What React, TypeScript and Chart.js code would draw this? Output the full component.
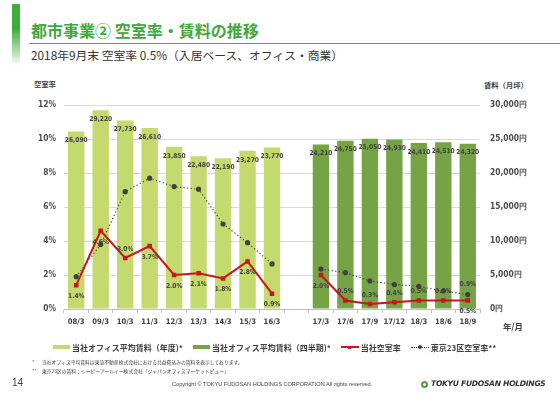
import React, { useEffect, useRef } from "react";
import { Chart, registerables } from "chart.js";
Chart.register(...registerables);

const categories = ["08/3", "09/3", "10/3", "11/3", "12/3", "13/3", "14/3", "15/3", "16/3", "", "17/3", "17/6", "17/9", "17/12", "18/3", "18/6", "18/9"];
const rentAnnual = [26090, 29220, 27730, 26610, 23850, 22480, 22190, 23270, 23770, null, null, null, null, null, null, null, null];
const rentQuarterly = [null, null, null, null, null, null, null, null, null, null, 24210, 24750, 25050, 24930, 24410, 24510, 24320];
const companyVacancy = [1.4, 4.6, 3.0, 3.7, 2.0, 2.1, 1.8, 2.8, 0.9, null, 2.0, 0.5, 0.3, 0.4, 0.5, 0.5, 0.5];
const tokyoVacancy = [1.9, 3.8, 6.9, 7.7, 7.2, 7.05, 5.0, 3.9, 2.65, null, 2.35, 2.14, 1.65, 1.44, 1.33, 1.06, 0.85];
const tokyoLabels = ["", "", "", "", "", "", "", "", "", "", "", "", "", "", "", "", "0.9%"];
const leftTickLabels = ["0%", "2%", "4%", "6%", "8%", "10%", "12%"];
const rightTickLabels = ["0円", "5,000円", "10,000円", "15,000円", "20,000円", "25,000円", "30,000円"];

const LIGHT = "#c4d96e";
const DARK = "#76a346";
const RED = "#c8161d";
const DOT = "#404040";
const TXT = "#404040";
const NUMFONT = '"DejaVu Sans Condensed", "DejaVu Sans", sans-serif';
const JP = '"Noto Sans CJK JP", "Noto Sans", sans-serif';

const redAbove = new Set([2, 11, 12, 13, 14, 15]);

const labelPlugin = {
  id: "valueLabels",
  afterDatasetsDraw(chart: any) {
    const ctx = chart.ctx;
    ctx.save();
    ctx.fillStyle = TXT;
    ctx.textAlign = "center";
    ctx.textBaseline = "middle";
    chart.data.datasets.forEach((ds: any, di: number) => {
      const meta = chart.getDatasetMeta(di);
      meta.data.forEach((el: any, i: number) => {
        const v = ds.data[i];
        if (v === null || v === undefined) return;
        if (ds.kind === "bar") {
          ctx.font = `bold 6.6px ${NUMFONT}`;
          ctx.fillText(v.toLocaleString("en-US"), el.x, el.y + 9);
        } else if (ds.kind === "red") {
          ctx.font = `bold 6.6px ${NUMFONT}`;
          const dy = redAbove.has(i) ? -9 : 11;
          ctx.fillText(v.toFixed(1) + "%", el.x, el.y + dy);
        } else if (ds.kind === "tokyo") {
          const t = tokyoLabels[i];
          if (t) {
            ctx.font = `bold 6.6px ${NUMFONT}`;
            ctx.fillText(t, el.x, el.y - 10);
          }
        }
      });
    });
    ctx.restore();
  },
};

function ChartBox() {
  const ref = useRef<HTMLCanvasElement>(null);
  useEffect(() => {
    const chart = new Chart(ref.current as HTMLCanvasElement, {
      type: "bar",
      data: {
        labels: categories,
        datasets: [
          { type: "line", kind: "red", label: "当社空室率", data: companyVacancy, yAxisID: "y", borderColor: RED, backgroundColor: RED, borderWidth: 2, pointStyle: "rect", pointRadius: 1.8, spanGaps: false, order: 1 } as any,
          { type: "line", kind: "tokyo", label: "東京23区空室率**", data: tokyoVacancy, yAxisID: "y", borderColor: DOT, backgroundColor: DOT, borderWidth: 1.2, borderDash: [1.2, 2.4], pointRadius: 2, spanGaps: false, order: 2 } as any,
          { type: "bar", kind: "bar", label: "当社オフィス平均賃料（年度)*", data: rentAnnual, yAxisID: "y1", backgroundColor: LIGHT, grouped: false, barPercentage: 0.67, categoryPercentage: 1, order: 3 } as any,
          { type: "bar", kind: "bar", label: "当社オフィス平均賃料（四半期)*", data: rentQuarterly, yAxisID: "y1", backgroundColor: DARK, grouped: false, barPercentage: 0.67, categoryPercentage: 1, order: 4 } as any,
        ],
      },
      options: {
        animation: false,
        responsive: false,
        maintainAspectRatio: false,
        layout: { padding: { top: 8, bottom: 0, left: 0, right: 0 } },
        plugins: { legend: { display: false }, tooltip: { enabled: false } },
        scales: {
          x: {
            offset: true,
            grid: { drawOnChartArea: false, drawTicks: true, tickLength: 4, color: "#bfbfbf", offset: true },
            border: { display: true, color: "#bfbfbf" },
            ticks: { color: TXT, font: { family: NUMFONT, size: 7.6, weight: "bold" }, padding: 4, maxRotation: 0, autoSkip: false },
            afterFit: (s: any) => { s.height = 31; },
          },
          y: {
            position: "left",
            min: 0,
            max: 12,
            ticks: { stepSize: 2, color: "#4d4d4d", font: { family: NUMFONT, size: 8.4, weight: "bold" }, padding: 8, callback: (_v: any, i: number) => leftTickLabels[i] },
            grid: { color: "#d9d9d9", drawTicks: false },
            border: { display: false },
            afterFit: (s: any) => { s.width = 64; },
          },
          y1: {
            position: "right",
            min: 0,
            max: 30000,
            ticks: { stepSize: 5000, color: "#4d4d4d", font: { family: NUMFONT, size: 8.4, weight: "bold" }, padding: 10, callback: (_v: any, i: number) => rightTickLabels[i] },
            grid: { drawOnChartArea: false, drawTicks: false },
            border: { display: false },
            afterFit: (s: any) => { s.width = 80; },
          },
        },
      } as any,
      plugins: [labelPlugin],
    });
    return () => chart.destroy();
  }, []);
  return <canvas ref={ref} width={560} height={250} style={{ position: "absolute", left: 0, top: 90, width: 560, height: 250 }} />;
}

const T = ({ x, y, size, children, style }: any) => (
  <div style={{ position: "absolute", left: x, top: y - size * 0.7, fontSize: size, lineHeight: `${size * 1.4}px`, whiteSpace: "nowrap", fontFamily: JP, color: TXT, ...style }}>{children}</div>
);

const Tiny = ({ x, y, size, children, style }: any) => (
  <div style={{ position: "absolute", left: x, top: y - size, fontSize: size * 2, lineHeight: `${size * 2}px`, whiteSpace: "nowrap", fontFamily: JP, color: TXT, transform: "scale(0.5)", transformOrigin: "left center", ...style }}>{children}</div>
);

const LegendItem = ({ kind, color, label }: any) => (
  <div style={{ display: "flex", alignItems: "center", marginRight: 10 }}>
    {kind === "box" && <div style={{ width: 17, height: 4, background: color, marginRight: 2 }} />}
    {kind === "line" && (
      <div style={{ position: "relative", width: 18, height: 6, marginRight: 2 }}>
        <div style={{ position: "absolute", left: 0, top: 2, width: 18, height: 2, background: color }} />
        <div style={{ position: "absolute", left: 7.5, top: 1.5, width: 3, height: 3, background: color }} />
      </div>
    )}
    {kind === "dot" && (
      <div style={{ position: "relative", width: 18, height: 6, marginRight: 2 }}>
        <div style={{ position: "absolute", left: 0, top: 2.5, width: 18, height: 0, borderTop: `1.2px dotted ${color}` }} />
        <div style={{ position: "absolute", left: 7, top: 1, width: 4, height: 4, borderRadius: 2, background: color }} />
      </div>
    )}
    <span style={{ fontSize: 8, fontWeight: "bold", fontFamily: JP, color: TXT, whiteSpace: "nowrap" }}>{label}</span>
  </div>
);

export default function App() {
  return (
    <div style={{ position: "absolute", left: 0, top: 0, width: 560, height: 396, background: "#fff", overflow: "hidden" }}>
      <div style={{ position: "absolute", left: 12, top: 4, width: 8, height: 62, background: "linear-gradient(to bottom, #3cae3c 0%, #3cae3c 40%, #ffffff 100%)" }} />
      <T x={31} y={30} size={16} style={{ fontWeight: "bold", color: "#3fa83a" }}>都市事業② 空室率・賃料の推移</T>
      <div style={{ position: "absolute", left: 29, top: 42.5, width: 531, height: 1.5, background: "#4cae3c" }} />
      <T x={31} y={55} size={11.8} style={{ color: "#333" }}>2018年9月末 空室率 0.5%（入居ベース、オフィス・商業）</T>
      <T x={34} y={84} size={7.3} style={{ fontWeight: "bold" }}>空室率</T>
      <T x={484} y={85} size={7.3} style={{ fontWeight: "bold" }}>賃料（月坪）</T>
      <ChartBox />
      <T x={503} y={326.5} size={8.4} style={{ fontWeight: "bold" }}>年/月</T>
      <div style={{ position: "absolute", left: 53, top: 341, height: 12, display: "flex", alignItems: "center" }}>
        <LegendItem kind="box" color={LIGHT} label="当社オフィス平均賃料（年度)*" />
        <LegendItem kind="box" color={DARK} label="当社オフィス平均賃料（四半期)*" />
        <LegendItem kind="line" color={RED} label="当社空室率" />
        <LegendItem kind="dot" color={DOT} label="東京23区空室率**" />
      </div>
      <Tiny x={32} y={362.5} size={4.8}>*</Tiny>
      <Tiny x={42} y={362.5} size={4.8}>当社オフィス平均賃料は東急不動産株式会社における共益費込みの賃料を表示しております。</Tiny>
      <Tiny x={32} y={371.5} size={4.8}>**</Tiny>
      <Tiny x={42} y={371.5} size={4.8}>東京23区の賃料：シービーアールイー株式会社「ジャパンオフィスマーケットビュー」</Tiny>
      <T x={12} y={383} size={10} style={{ fontFamily: '"Liberation Sans", Arial, sans-serif' }}>14</T>
      <Tiny x={172} y={384.5} size={5.6} style={{ fontFamily: '"Liberation Sans", Arial, sans-serif' }}>Copyright © TOKYU FUDOSAN HOLDINGS CORPORATION All rights reserved.</Tiny>
      <div style={{ position: "absolute", left: 421, top: 380.5, width: 7, height: 7, borderRadius: 4, background: "radial-gradient(circle, #ffffff 0 25%, #4aa83a 30% 100%)" }} />
      <T x={431} y={384} size={7.6} style={{ fontFamily: '"DejaVu Sans", sans-serif', fontWeight: "bold", fontStyle: "italic", color: "#333", letterSpacing: -0.3 }}>TOKYU FUDOSAN HOLDINGS</T>
    </div>
  );
}
